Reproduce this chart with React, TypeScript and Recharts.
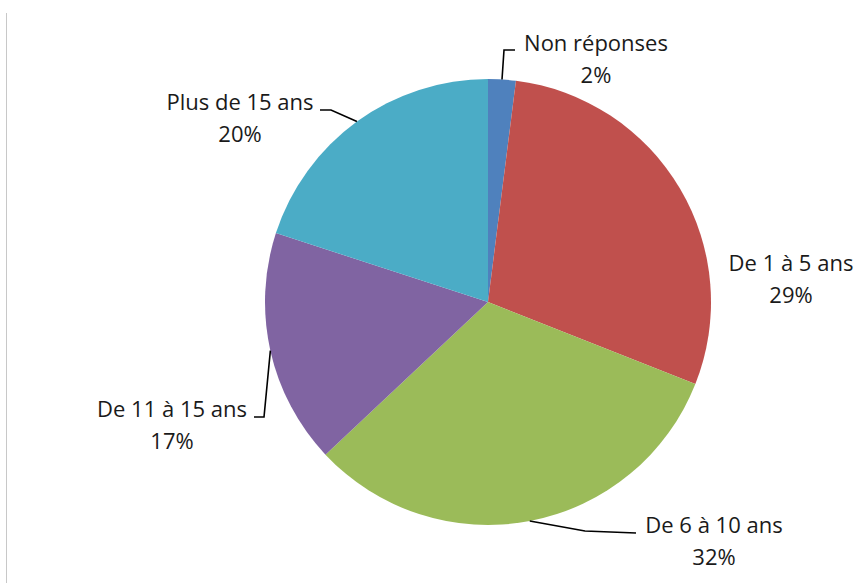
import React from 'react';
import { PieChart, Pie, Cell } from 'recharts';

const categories = ['Non réponses', 'De 1 à 5 ans', 'De 6 à 10 ans', 'De 11 à 15 ans', 'Plus de 15 ans'];
const shares = [2, 29, 32, 17, 20];
const percentLabels = ['2%', '29%', '32%', '17%', '20%'];
const colors = ['#4F81BD', '#C0504D', '#9BBB59', '#8064A2', '#4BACC6'];

const data = categories.map((name, i) => ({ name, value: shares[i] }));

// label placement relative to pie centre (text centre x, first-line baseline y, leader elbow points)
const labelLayout = [
  { dx: 108, dy: -251, leader: [[16, -252], [27, -252]] },
  { dx: 303, dy: -31, leader: [] },
  { dx: 226, dy: 231, leader: [[97, 229], [148, 231]] },
  { dx: -316, dy: 115, leader: [[-224, 115], [-234, 115]] },
  { dx: -248, dy: -192, leader: [[-157, -192], [-168, -192]] },
];

const RAD = Math.PI / 180;

const renderLabel = (props: any) => {
  const { cx, cy, midAngle, outerRadius, index } = props;
  const lay = labelLayout[index];
  const sx = cx + outerRadius * Math.cos(-midAngle * RAD);
  const sy = cy + outerRadius * Math.sin(-midAngle * RAD);
  const pts = [[sx, sy], ...lay.leader.map(([x, y]) => [cx + x, cy + y])];
  const tx = cx + lay.dx;
  const ty = cy + lay.dy;
  return (
    <g key={`lbl-${index}`}>
      {lay.leader.length > 0 && (
        <polyline
          points={pts.map((p) => p.join(',')).join(' ')}
          fill="none"
          stroke="#000"
          strokeWidth={1.6}
        />
      )}
      <text x={tx} y={ty} textAnchor="middle" fill="#1a1a1a" fontSize={22} fontFamily="'Open Sans', sans-serif">
        {categories[index]}
      </text>
      <text x={tx} y={ty + 32} textAnchor="middle" fill="#1a1a1a" fontSize={22} fontFamily="'Open Sans', sans-serif">
        {percentLabels[index]}
      </text>
    </g>
  );
};

export default function App() {
  return (
    <div style={{ position: 'fixed', left: 0, top: 0, width: 859, height: 583, background: '#fff' }}>
      <div style={{ position: 'absolute', left: 6, top: 13, width: 1, height: 570, background: '#c8c8c8' }} />
      <PieChart width={859} height={583} margin={{ top: 0, right: 0, bottom: 0, left: 0 }}>
        <Pie
          data={data}
          dataKey="value"
          nameKey="name"
          cx={488}
          cy={302}
          outerRadius={223}
          startAngle={90}
          endAngle={-270}
          stroke="none"
          label={renderLabel}
          labelLine={false}
          isAnimationActive={false}
        >
          {data.map((d, i) => (
            <Cell key={d.name} fill={colors[i]} />
          ))}
        </Pie>
      </PieChart>
    </div>
  );
}
